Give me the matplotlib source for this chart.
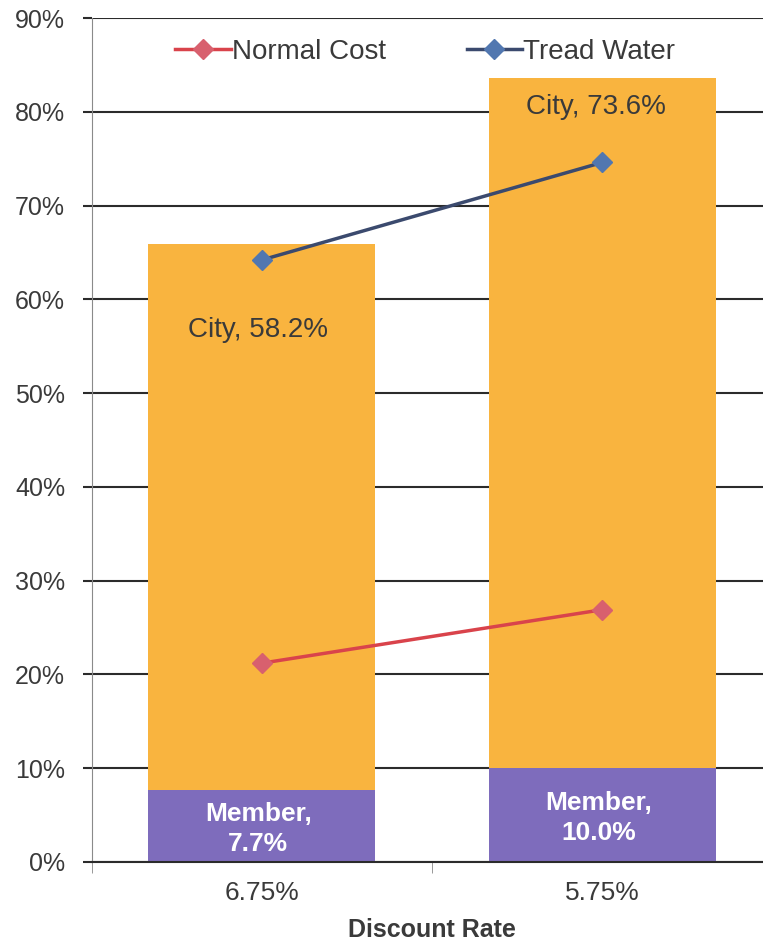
import matplotlib.pyplot as plt
from matplotlib.ticker import FixedLocator, PercentFormatter

plt.rcParams['font.family'] = ['Liberation Sans', 'DejaVu Sans']

rates = ["6.75%", "5.75%"]
member = [7.7, 10.0]
city = [58.2, 73.6]
normal_cost = [21.2, 26.9]
tread_water = [64.2, 74.6]

ORANGE = "#F9B43F"
PURPLE = "#7E6CBC"
TEXT = "#3a3a3a"

fig = plt.figure(figsize=(7.63, 9.44), dpi=100)
ax = fig.add_axes([0.12, 0.0869, 0.8925, 0.894])

x = list(range(len(rates)))
ax.bar(x, member, width=0.667, color=PURPLE, zorder=2)
ax.bar(x, city, width=0.667, bottom=member, color=ORANGE, zorder=2)

ax.plot(x, normal_cost, color="#D9434B", lw=2.5, marker="D", ms=10,
        mfc="#D8606E", mec="#D8606E", zorder=3, label="Normal Cost")
ax.plot(x, tread_water, color="#3B4A6E", lw=2.5, marker="D", ms=10,
        mfc="#5177B0", mec="#5177B0", zorder=3, label="Tread Water")

# data labels
for i in x:
    ax.text(i - 0.01, member[i] / 2 - 0.3, f"Member,\n{member[i]:.1f}%",
            ha="center", va="center", color="white", fontsize=19,
            fontweight="bold", linespacing=1.3, zorder=4)
ax.text(-0.01, 56.7, f"City, {city[0]:.1f}%", ha="center", va="center",
        color=TEXT, fontsize=20, zorder=4)
ax.text(0.98, 80.5, f"City, {city[1]:.1f}%", ha="center", va="center",
        color=TEXT, fontsize=20, zorder=4)

ax.set_ylim(0, 90)
ax.set_xlim(-0.5, 1.5)
ax.yaxis.set_major_locator(FixedLocator(range(0, 91, 10)))
ax.yaxis.set_major_formatter(PercentFormatter(decimals=0))
ax.grid(axis="y", color="#2b2b2b", lw=1.5, zorder=1)
ax.set_axisbelow(True)

ax.set_xticks(x)
ax.set_xticklabels(rates)
ax.xaxis.set_minor_locator(FixedLocator([-0.5, 0.5, 1.5]))
ax.tick_params(axis="x", which="major", length=0, pad=14, labelsize=19,
               labelcolor=TEXT)
ax.tick_params(axis="x", which="minor", length=8, color="#888888")
ax.tick_params(axis="y", length=6.5, color="#2b2b2b", width=1.5, pad=12.5,
               labelsize=18, labelcolor=TEXT)

for side in ("top", "right"):
    ax.spines[side].set_visible(False)
ax.spines["left"].set_color("#8a8a8a")
ax.spines["bottom"].set_color("#2b2b2b")
ax.spines["bottom"].set_linewidth(1.5)

ax.set_xlabel("Discount Rate", fontsize=18, fontweight="bold", color=TEXT,
              labelpad=9)

ax.legend(loc="center", bbox_to_anchor=(0.49, 0.96), ncol=2, frameon=False,
          fontsize=20, handlelength=2.0, handletextpad=0.05, columnspacing=2.9,
          labelcolor=TEXT)

fig.savefig("out.png", dpi=100)
